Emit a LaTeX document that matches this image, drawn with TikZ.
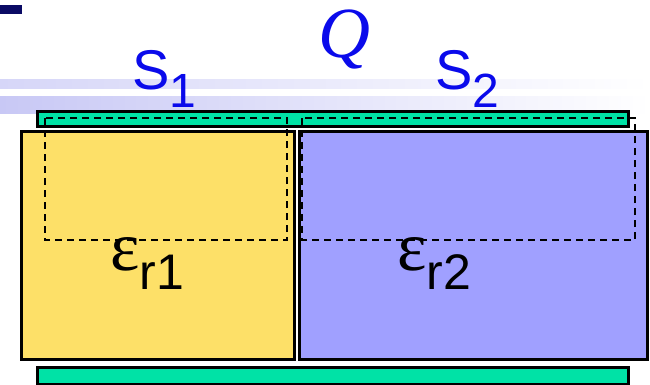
\documentclass[tikz,border=0pt]{standalone}
\usepackage{fontspec}
\setmainfont{Liberation Sans}
\newfontfamily\serifQ{Liberation Serif}
\definecolor{plategreen}{RGB}{0,226,166}
\definecolor{diyellow}{RGB}{253,224,104}
\definecolor{diblue}{RGB}{160,160,255}
\definecolor{txtblue}{RGB}{10,10,235}
\definecolor{navy}{RGB}{10,10,100}
\definecolor{stripe}{RGB}{200,200,245}
\definecolor{stripeb}{RGB}{214,214,248}
\begin{document}
\begin{tikzpicture}[x=1pt,y=-1pt,
  plate/.style={draw=black,line width=2.6pt,fill=plategreen,inner sep=0pt,anchor=north west},
  dielec/.style={draw=black,line width=2.6pt,inner sep=0pt,anchor=north west},
  surf/.style={draw=black,line width=2.2pt,dash pattern=on 7pt off 5pt},
  lbl/.style={inner sep=0pt,anchor=base west,text=txtblue}]
\useasboundingbox (0,0) rectangle (650,384);
\fill[white] (0,0) rectangle (650,384);
% slide template decoration
\fill[navy] (0,5) rectangle (22,14);
\shade[left color=stripeb,right color=white] (0,79) rectangle (650,88);
\shade[left color=stripe,right color=white] (0,96) rectangle (650,113);
% plates and dielectrics
\node[plate,minimum width=591pt,minimum height=15pt] (top) at (36,110) {};
\node[dielec,fill=diyellow,minimum width=273pt,minimum height=228pt] (d1) at (20,130) {};
\node[dielec,fill=diblue,minimum width=348pt,minimum height=228pt] (d2) at (298,130) {};
\node[plate,minimum width=591pt,minimum height=17pt] (bot) at (36,366) {};
% Gaussian surfaces
\draw[surf] (45,118) rectangle (287,240);
\draw[surf] (302,118) rectangle (635,240);
% labels
\node[lbl,font=\fontsize{56}{56}\selectfont] (s1) at (132,89) {S\raisebox{-18pt}{\fontsize{48}{48}\selectfont 1}};
\node[lbl,font=\fontsize{56}{56}\selectfont] (s2) at (435,89) {S\raisebox{-18pt}{\fontsize{48}{48}\selectfont 2}};
\node[lbl,font=\serifQ\itshape\fontsize{72}{72}\selectfont] (q) at (318,57) {Q};
\node[lbl,text=black] (e1) at (110,270) {{\serifQ\fontsize{70}{70}\selectfont ε}\raisebox{-19pt}{\fontsize{50}{50}\selectfont r1}};
\node[lbl,text=black] (e2) at (397,270) {{\serifQ\fontsize{70}{70}\selectfont ε}\raisebox{-19pt}{\fontsize{50}{50}\selectfont r2}};
\end{tikzpicture}
\end{document}
